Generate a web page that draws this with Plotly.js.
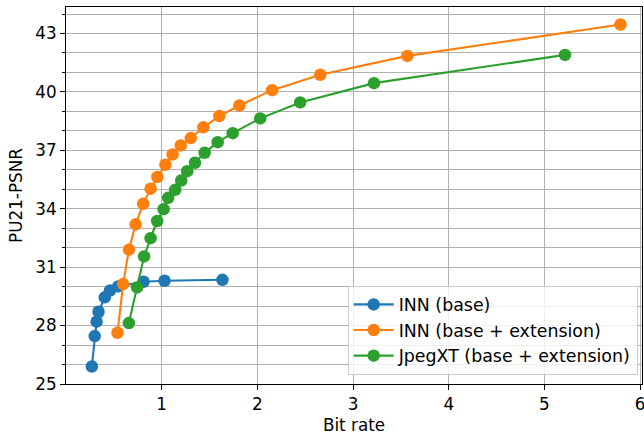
<!DOCTYPE html>
<html>
<head>
<meta charset="utf-8">
<script src="https://cdn.plot.ly/plotly-3.0.1.min.js"></script>
<style>html,body{margin:0;padding:0;background:#fff;}#chart{width:644px;height:438px;}</style>
</head>
<body>
<div id="chart"></div>
<script>
const seriesNames = ["INN (base)", "INN (base + extension)", "JpegXT (base + extension)"];
const seriesColors = ["#1f77b4", "#ff7f0e", "#2ca02c"];

const innBaseX = [0.27, 0.30, 0.32, 0.34, 0.405, 0.46, 0.545, 0.81, 1.03, 1.635];
const innBaseY = [25.90, 27.46, 28.20, 28.71, 29.45, 29.80, 30.01, 30.25, 30.30, 30.35];

const innExtX = [0.538, 0.597, 0.658, 0.728, 0.806, 0.884, 0.955, 1.039, 1.114, 1.199, 1.304, 1.435, 1.602, 1.812, 2.154, 2.657, 3.568, 5.795];
const innExtY = [27.63, 30.13, 31.90, 33.20, 34.25, 35.03, 35.63, 36.26, 36.79, 37.25, 37.63, 38.18, 38.76, 39.30, 40.09, 40.88, 41.85, 43.46];

const jpegX = [0.657, 0.743, 0.816, 0.884, 0.953, 1.020, 1.068, 1.141, 1.204, 1.267, 1.348, 1.449, 1.585, 1.742, 2.030, 2.447, 3.219, 5.215];
const jpegY = [28.13, 29.96, 31.55, 32.49, 33.37, 33.98, 34.56, 34.97, 35.45, 35.93, 36.36, 36.87, 37.42, 37.88, 38.64, 39.46, 40.45, 41.90];

const xTicks = [1, 2, 3, 4, 5, 6];
const yTicks = [25, 28, 31, 34, 37, 40, 43];

const xs = [innBaseX, innExtX, jpegX];
const ys = [innBaseY, innExtY, jpegY];

const traces = xs.map((x, i) => ({
  x: x, y: ys[i], name: seriesNames[i], type: 'scatter', mode: 'lines+markers',
  line: {color: seriesColors[i], width: 2.1},
  marker: {color: seriesColors[i], size: 12.5}
}));

const fontFam = 'DejaVu Sans, sans-serif';
const layout = {
  width: 644, height: 438,
  margin: {l: 66, r: 2, t: 7, b: 54},
  paper_bgcolor: '#fff', plot_bgcolor: '#fff',
  font: {family: fontFam, size: 16.8, color: '#000'},
  showlegend: true,
  legend: {
    x: 0.9925, y: 0.025, xanchor: 'right', yanchor: 'bottom',
    bgcolor: 'rgba(255,255,255,0.8)', bordercolor: '#cccccc', borderwidth: 1,
    font: {family: fontFam, size: 17.4, color: '#000'},
    itemwidth: 40,
    tracegroupgap: 0
  },
  xaxis: {
    range: [0, 6.02],
    tickvals: xTicks, ticktext: xTicks.map(String),
    ticklabeloverflow: 'allow',
    ticks: 'outside', ticklen: 5, tickwidth: 1, tickcolor: '#000',
    showline: true, linecolor: '#000', linewidth: 1, mirror: true,
    showgrid: true, gridcolor: '#b0b0b0', gridwidth: 1,
    zeroline: false,
    title: {text: 'Bit rate', font: {family: fontFam, size: 16.8}, standoff: 6},
    tickfont: {family: fontFam, size: 16.8}
  },
  yaxis: {
    range: [25, 44.36],
    tickvals: yTicks, ticktext: yTicks.map(String),
    ticks: 'outside', ticklen: 5, tickwidth: 1, tickcolor: '#000',
    showline: true, linecolor: '#000', linewidth: 1, mirror: true,
    showgrid: true, gridcolor: '#b0b0b0', gridwidth: 1,
    zeroline: false,
    minor: {dtick: 1, tick0: 25, ticks: 'outside', ticklen: 3, tickcolor: '#000', showgrid: true, gridcolor: '#b0b0b0', gridwidth: 1},
    title: {text: 'PU21-PSNR', font: {family: fontFam, size: 16.8}, standoff: 8},
    tickfont: {family: fontFam, size: 16.8}
  }
};

Plotly.newPlot('chart', traces, layout, {displayModeBar: false, staticPlot: true});
</script>
</body>
</html>
